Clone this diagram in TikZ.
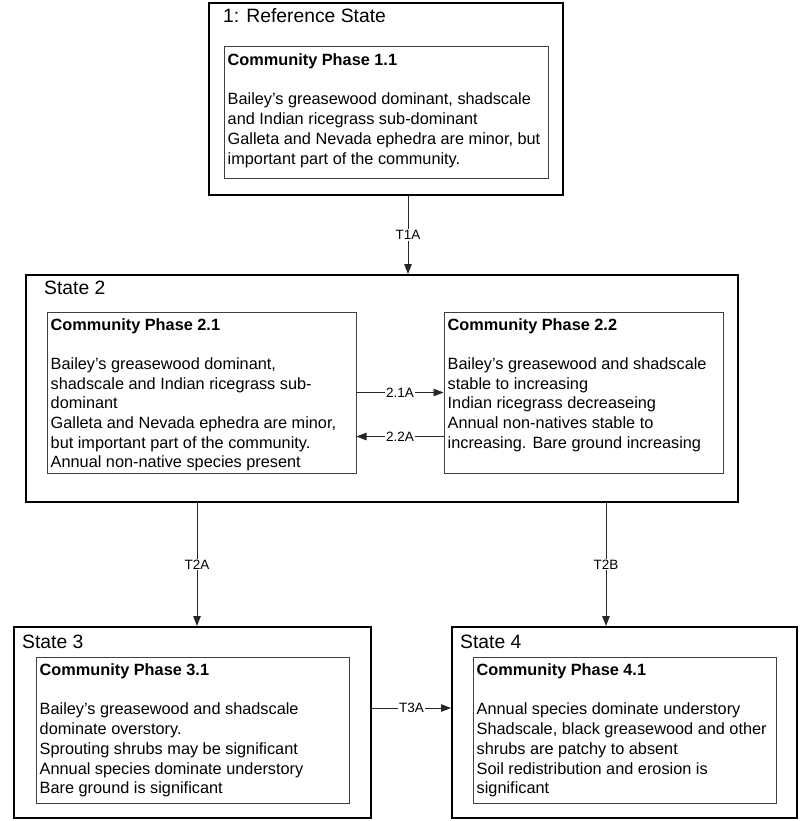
\documentclass[tikz,border=0pt]{standalone}
\usepackage{fontspec}
\setmainfont{Liberation Sans}
\usetikzlibrary{arrows.meta,calc}
\begin{document}
\begin{tikzpicture}[x=1pt,y=-1pt,
  state/.style={draw=black,line width=2pt,inner sep=0pt},
  phase/.style={draw=black!75,line width=1pt,inner sep=0pt},
  ttl/.style={anchor=north west,inner sep=0pt,font=\fontsize{19.3}{23}\selectfont},
  ptext/.style={anchor=north west,inner sep=0pt,align=left,font=\fontsize{16.3}{19.7}\selectfont},
  arr/.style={draw=black!85,line width=1pt,-{Triangle[length=10pt,width=7.5pt]}},
  lbl/.style={fill=white,inner sep=1pt,font=\fontsize{13.5}{15}\selectfont}
]
\useasboundingbox[fill=white] (0,0) rectangle (800,821);

% State 1
\node[state,minimum width=354,minimum height=192] (s1) at (386,99) {};
\node[ttl] (t1) at ([shift={(15,6)}]s1.north west) {1: Reference State};
\node[phase,minimum width=324,minimum height=132] (p11) at (386,113) {};
\node[ptext] (x11) at ([shift={(4,7)}]p11.north west) {\textbf{Community Phase 1.1}\\[19.7pt]
Bailey's greasewood dominant, shadscale\\
and Indian ricegrass sub-dominant\\
Galleta and Nevada ephedra are minor, but\\
important part of the community.};

% State 2
\node[state,minimum width=712,minimum height=227] (s2) at (382,388.5) {};
\node[ttl] (t2) at ([shift={(19,7)}]s2.north west) {State 2};
\node[phase,minimum width=309,minimum height=161] (p21) at (201.5,392.5) {};
\node[ptext] (x21) at ([shift={(4,6.5)}]p21.north west) {\textbf{Community Phase 2.1}\\[19.7pt]
Bailey's greasewood dominant,\\
shadscale and Indian ricegrass sub-\\
dominant\\
Galleta and Nevada ephedra are minor,\\
but important part of the community.\\
Annual non-native species present};
\node[phase,minimum width=279,minimum height=161] (p22) at (583.5,392.5) {};
\node[ptext] (x22) at ([shift={(4,6.5)}]p22.north west) {\textbf{Community Phase 2.2}\\[19.7pt]
Bailey's greasewood and shadscale\\
stable to increasing\\
Indian ricegrass decreaseing\\
Annual non-natives stable to\\
increasing. Bare ground increasing};

% State 3
\node[state,minimum width=357,minimum height=191] (s3) at (192.5,722.5) {};
\node[ttl] (t3) at ([shift={(9,9)}]s3.north west) {State 3};
\node[phase,minimum width=313,minimum height=146] (p31) at (192.5,730) {};
\node[ptext] (x31) at ([shift={(4,7)}]p31.north west) {\textbf{Community Phase 3.1}\\[19.7pt]
Bailey's greasewood and shadscale\\
dominate overstory.\\
Sprouting shrubs may be significant\\
Annual species dominate understory\\
Bare ground is significant};

% State 4
\node[state,minimum width=345,minimum height=191] (s4) at (624.5,722.5) {};
\node[ttl] (t4) at ([shift={(9,9)}]s4.north west) {State 4};
\node[phase,minimum width=303,minimum height=146] (p41) at (624.5,730) {};
\node[ptext] (x41) at ([shift={(4,7)}]p41.north west) {\textbf{Community Phase 4.1}\\[19.7pt]
Annual species dominate understory\\
Shadscale, black greasewood and other\\
shrubs are patchy to absent\\
Soil redistribution and erosion is\\
significant};

% Transitions
\draw[arr] ([xshift=22]s1.south) -- ([xshift=22]s1.south |- s2.north) node[lbl,midway] (l1) {T1A};
\draw[arr] (p21.east) -- (p21.east -| p22.west) node[lbl,midway] (l21) {2.1A};
\draw[arr] ([yshift=-44]p22.west) -- ([yshift=-44]p22.west -| p21.east) node[lbl,midway] (l22) {2.2A};
\draw[arr] ([xshift=4.5]s3.north |- s2.south) -- ([xshift=4.5]s3.north) node[lbl,midway] (l2a) {T2A};
\draw[arr] ([xshift=-18.5]s4.north |- s2.south) -- ([xshift=-18.5]s4.north) node[lbl,midway] (l2b) {T2B};
\draw[arr] ([yshift=14.5]s3.east) -- ([yshift=14.5]s3.east -| s4.west) node[lbl,midway] (l3a) {T3A};
\end{tikzpicture}
\end{document}
